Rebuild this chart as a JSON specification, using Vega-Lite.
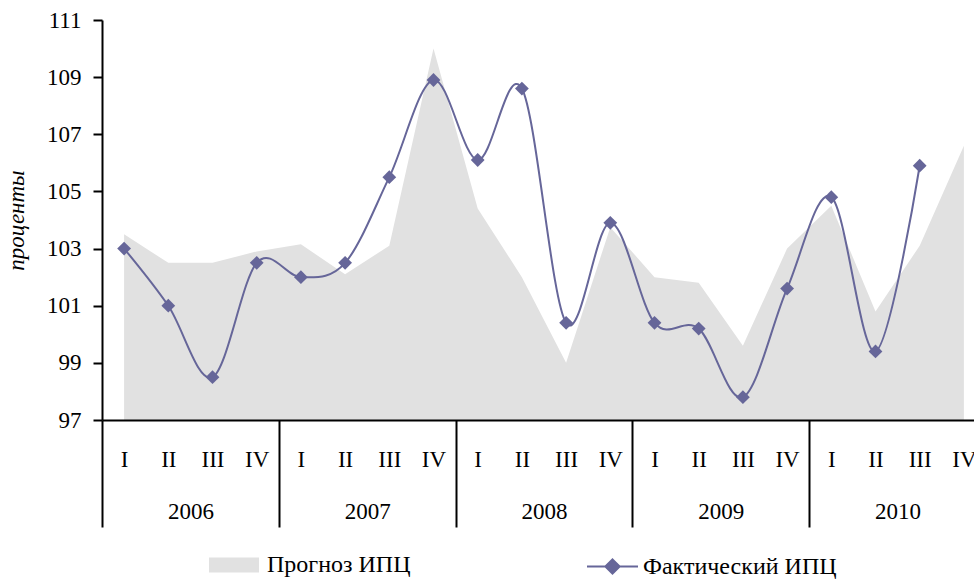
{
  "$schema": "https://vega.github.io/schema/vega-lite/v6.json",
  "width": 884,
  "height": 400,
  "autosize": {"type": "none"},
  "padding": {"left": 102, "top": 20, "right": -12, "bottom": 161},
  "background": "white",
  "config": {
    "view": {"stroke": null},
    "font": "Liberation Serif",
    "axis": {"labelFont": "Liberation Serif", "labelFontSize": 23, "labelColor": "black", "grid": false, "domainColor": "black", "tickColor": "black"}
  },
  "data": {
    "values": [
      {"key": "2006-I", "q": "I", "year": "2006", "forecast": 103.5, "actual": 103.0},
      {"key": "2006-II", "q": "II", "year": "2006", "forecast": 102.5, "actual": 101.0},
      {"key": "2006-III", "q": "III", "year": "2006", "forecast": 102.5, "actual": 98.5},
      {"key": "2006-IV", "q": "IV", "year": "2006", "forecast": 102.9, "actual": 102.5},
      {"key": "2007-I", "q": "I", "year": "2007", "forecast": 103.15, "actual": 102.0},
      {"key": "2007-II", "q": "II", "year": "2007", "forecast": 102.1, "actual": 102.5},
      {"key": "2007-III", "q": "III", "year": "2007", "forecast": 103.1, "actual": 105.5},
      {"key": "2007-IV", "q": "IV", "year": "2007", "forecast": 110.0, "actual": 108.9},
      {"key": "2008-I", "q": "I", "year": "2008", "forecast": 104.4, "actual": 106.1},
      {"key": "2008-II", "q": "II", "year": "2008", "forecast": 102.0, "actual": 108.6},
      {"key": "2008-III", "q": "III", "year": "2008", "forecast": 99.0, "actual": 100.4},
      {"key": "2008-IV", "q": "IV", "year": "2008", "forecast": 103.75, "actual": 103.9},
      {"key": "2009-I", "q": "I", "year": "2009", "forecast": 102.0, "actual": 100.4},
      {"key": "2009-II", "q": "II", "year": "2009", "forecast": 101.8, "actual": 100.2},
      {"key": "2009-III", "q": "III", "year": "2009", "forecast": 99.6, "actual": 97.8},
      {"key": "2009-IV", "q": "IV", "year": "2009", "forecast": 103.0, "actual": 101.6},
      {"key": "2010-I", "q": "I", "year": "2010", "forecast": 104.5, "actual": 104.8},
      {"key": "2010-II", "q": "II", "year": "2010", "forecast": 100.8, "actual": 99.4},
      {"key": "2010-III", "q": "III", "year": "2010", "forecast": 103.1, "actual": 105.9},
      {"key": "2010-IV", "q": "IV", "year": "2010", "forecast": 106.6, "actual": null}
    ]
  },
  "layer": [
    {
      "encoding": {
        "x": {
          "field": "key", "type": "ordinal", "sort": null,
          "scale": {"type": "point", "padding": 0.5},
          "axis": {"orient": "bottom", "ticks": false, "tickSize": 0, "domainWidth": 2, "labelPadding": 39, "labelBaseline": "middle", "labelAngle": 0, "title": null, "zindex": 1,
                   "labelExpr": "split(datum.value, '-')[1]"}
        },
        "y": {
          "type": "quantitative",
          "scale": {"domain": [97, 111], "nice": false, "zero": false},
          "axis": {"values": [97, 99, 101, 103, 105, 107, 109, 111], "tickSize": 9, "tickWidth": 2, "domainWidth": 2, "labelPadding": 12, "zindex": 1,
                   "title": "проценты", "titleFont": "Liberation Serif", "titleFontStyle": "italic", "titleFontWeight": "normal", "titleFontSize": 23, "titleColor": "black", "titlePadding": 18}
        }
      },
      "layer": [
        {
          "mark": {"type": "area", "opacity": 1},
          "encoding": {
            "y": {"field": "forecast"},
            "y2": {"datum": 97},
            "fill": {"datum": "Прогноз ИПЦ", "scale": {"range": ["#e1e1e1"]},
                     "legend": {"orient": "none", "legendX": 107, "legendY": 520, "title": null,
                                "symbolType": "M-1,-0.3H1V0.3H-1Z", "symbolSize": 2500, "symbolStrokeWidth": 0, "symbolOpacity": 1,
                                "labelFont": "Liberation Serif", "labelFontSize": 24, "labelColor": "black", "labelOffset": 8, "labelLimit": 400}}
          }
        },
        {
          "mark": {"type": "line", "interpolate": "cardinal", "strokeWidth": 2},
          "encoding": {
            "y": {"field": "actual"},
            "stroke": {"datum": "Фактический ИПЦ", "scale": {"range": ["#666699"]},
                       "legend": {"orient": "none", "legendX": 484, "legendY": 520, "title": null,
                                  "symbolType": "M-1,0H1M0,-0.28L0.28,0L0,0.28L-0.28,0Z", "symbolSize": 2601, "symbolStrokeWidth": 2, "symbolFillColor": "#666699",
                                  "labelFont": "Liberation Serif", "labelFontSize": 24, "labelColor": "black", "labelOffset": 4, "labelLimit": 400,
                                  "encode": {"symbols": {"update": {"fill": {"value": "#666699"}, "opacity": {"value": 1}}}}}}
          }
        },
        {
          "mark": {"type": "point", "shape": "diamond", "filled": true, "size": 190, "color": "#666699", "opacity": 1},
          "encoding": {"y": {"field": "actual"}}
        }
      ]
    },
    {
      "mark": {"type": "point", "opacity": 0},
      "encoding": {
        "x": {
          "field": "year", "type": "ordinal",
          "scale": {"type": "band", "paddingInner": 0, "paddingOuter": 0},
          "axis": {"orient": "bottom", "domain": false, "tickBand": "extent", "tickSize": 107, "tickWidth": 2, "labelPadding": -16, "labelBaseline": "middle", "labelAngle": 0, "title": null, "zindex": 1}
        }
      }
    }
  ],
  "resolve": {"scale": {"x": "independent"}}
}
